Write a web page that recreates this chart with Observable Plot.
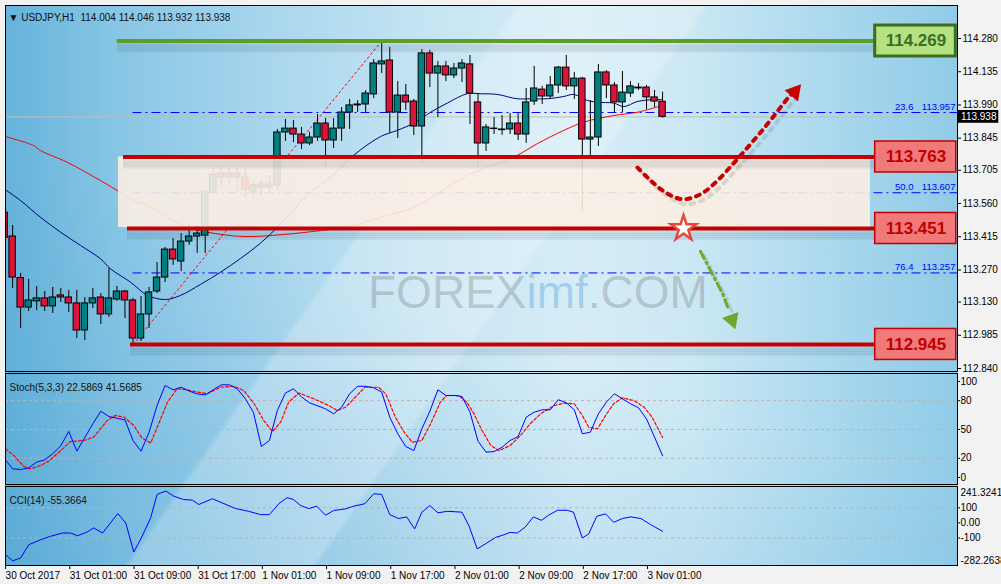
<!DOCTYPE html>
<html><head><meta charset="utf-8">
<script src="https://cdn.jsdelivr.net/npm/d3@7"></script>
<script src="https://cdn.jsdelivr.net/npm/@observablehq/plot@0.6"></script>
<style>
html,body{margin:0;padding:0;background:#f0f0f0;}
#wrap{position:relative;width:1001px;height:584px;overflow:hidden;background:#f2f2f2;font-family:'Liberation Sans',Arial,sans-serif;}
#bg{position:absolute;left:5px;top:5px;width:952px;height:560px;
 background:
  linear-gradient(125deg, rgba(255,255,255,0) 0%, rgba(255,255,255,0) 38%, rgba(255,255,255,0.22) 38.5%, rgba(255,255,255,0.22) 52%, rgba(255,255,255,0) 52.5%),
  linear-gradient(200deg, rgba(255,255,255,0) 55%, rgba(60,150,205,0.28) 100%),
  linear-gradient(90deg, #66b3da 0%, #88c6e5 12%, #a9d6ed 28%, #c6e5f3 45%, #d6edf7 60%, #cbe8f4 72%, #acd9ee 86%, #90cbe7 100%);}
#wm{position:absolute;left:368px;top:269px;font-size:46px;line-height:46px;white-space:nowrap;font-family:'Liberation Sans',Arial,sans-serif;}
</style></head>
<body>
<div id="wrap"><div id="bg"></div>
<div id="wm"><span style="color:rgba(105,105,105,0.30)">FOREX</span><span style="color:rgba(40,130,200,0.28)">imf</span><span style="color:rgba(105,105,105,0.30)">.COM</span></div>
</div>
<script>
// ---------- data ----------
const header = "\u25BC USDJPY,H1\u00a0 114.004 114.046 113.932 113.938";
const opens = [113.520,113.416,113.235,113.106,113.133,113.146,113.111,113.159,113.150,113.124,
113.006,113.124,113.150,113.076,113.141,113.176,113.137,112.971,113.076,113.176,
113.237,113.359,113.307,113.394,113.416,113.420,113.608,113.691,113.673,113.691,
113.673,113.613,113.643,113.630,113.639,113.870,113.887,113.861,113.822,113.848,
113.909,113.835,113.887,113.957,113.988,113.992,114.036,114.167,114.184,113.957,
114.031,114.005,113.896,114.215,114.127,114.158,114.119,114.149,114.167,114.001,
113.822,113.887,113.883,113.883,113.909,113.861,114.005,114.057,114.027,114.075,
114.153,114.071,114.105,113.839,113.848,114.132,114.075,114.001,114.040,114.066,
114.066,114.023,114.004];
const highs = [113.530,113.464,113.255,113.229,113.198,113.176,113.194,113.189,113.181,113.181,
113.150,113.189,113.167,113.277,113.198,113.181,113.146,113.154,113.194,113.303,
113.368,113.407,113.429,113.473,113.464,113.617,113.717,113.722,113.713,113.713,
113.709,113.660,113.660,113.682,113.883,113.927,113.922,113.892,113.870,113.948,
113.931,113.930,113.979,114.014,114.009,114.053,114.188,114.269,114.241,114.092,
114.079,114.014,114.232,114.228,114.180,114.180,114.171,114.188,114.206,114.040,
113.905,113.935,113.944,113.953,113.953,114.062,114.158,114.071,114.114,114.158,
114.206,114.132,114.110,114.009,114.167,114.140,114.088,114.136,114.092,114.084,
114.075,114.053,114.046];
const lows = [113.390,113.189,113.015,113.089,113.093,113.089,113.080,113.128,113.085,112.971,
112.962,113.102,113.032,113.063,113.133,113.058,112.945,112.958,113.015,113.167,
113.215,113.290,113.263,113.377,113.342,113.342,113.604,113.634,113.639,113.608,
113.586,113.595,113.595,113.608,113.617,113.831,113.826,113.796,113.813,113.831,
113.722,113.800,113.831,113.883,113.957,113.957,114.018,114.127,113.866,113.844,
113.966,113.857,113.735,114.066,113.935,114.092,114.105,114.088,113.905,113.717,
113.787,113.861,113.857,113.861,113.835,113.822,113.988,113.992,114.014,114.040,
114.053,114.014,113.521,113.770,113.809,114.018,113.957,113.957,114.023,114.053,
113.970,113.979,113.932];
const closes = [113.410,113.237,113.106,113.137,113.146,113.111,113.150,113.150,113.124,113.006,
113.124,113.146,113.076,113.146,113.176,113.137,112.971,113.076,113.172,113.237,
113.359,113.316,113.394,113.416,113.429,113.608,113.687,113.673,113.691,113.673,
113.621,113.639,113.630,113.643,113.870,113.887,113.861,113.822,113.848,113.909,
113.835,113.887,113.957,113.988,113.992,114.040,114.171,114.180,113.957,114.031,
114.001,113.896,114.215,114.127,114.158,114.119,114.149,114.171,114.040,113.822,
113.892,113.885,113.880,113.909,113.861,114.001,114.062,114.027,114.075,114.153,
114.071,114.105,113.839,113.848,114.132,114.075,114.001,114.044,114.071,114.062,
114.023,114.005,113.938];

const blueBars = [0.11,1.98,4.47,6.97,9.46,11.95,13.2,15.69,17.81,20.05,21.92,24.41,26.9,29.4,31.89,34.01,35.63,38.12,40.62,43.48,46.85,48.93,50.96,53.08,55.16,57.65,59.31,61.39,63.88,65.54,67.62,69.69,70.94,72.61,73.85,75.92,77.17,78.84,80.49,81.95];
const blueVals = [113.620,113.573,113.500,113.435,113.377,113.319,113.275,113.217,113.159,113.141,113.159,113.207,113.260,113.320,113.387,113.457,113.518,113.609,113.675,113.770,113.852,113.879,113.910,113.958,113.998,114.039,114.039,114.036,114.017,114.017,114.017,114.027,114.036,114.010,114.002,113.998,113.983,114.005,114.013,114.013];
const redBars = [0.11,3.6,4.47,7.8,11.95,14.03,16.1,18.18,20.68,22.76,25.25,29.81,34.8,39.37,42.7,46.85,51.0,55.16,58.06,61.39,63.88,66.38,69.69,72.18,75.92,78.84,81.95];
const redVals = [113.852,113.813,113.791,113.740,113.660,113.617,113.573,113.547,113.493,113.457,113.435,113.416,113.425,113.442,113.457,113.500,113.544,113.631,113.690,113.733,113.770,113.821,113.879,113.915,113.944,113.958,113.988];

const priceTicks = [114.280,114.135,113.990,113.845,113.705,113.560,113.415,113.270,113.130,112.985,112.840];
const lastPrice = 113.938;

const levelPrices = [114.269, 113.763, 113.451, 112.945];
const levelStarts = [14.03, 14.82, 15.32, 15.69];
const boxBar = 108.5;

const zoneBars = [14.2, 107.9];
const zonePrices = [113.455, 113.763];

const fibPcts = ["23.6", "50.0", "76.4"];
const fibPrices = [113.957, 113.607, 113.257];
const fibStartBar = 16;
const trendBars = [16, 47];
const trendPrices = [112.945, 114.269];

const upArrowBars = [78.88,80.25,81.99,83.61,84.61,85.73,87.10,88.85,90.84,92.58,94.21,95.83,97.57,98.19];
const upArrowPrices = [113.717,113.669,113.617,113.586,113.578,113.586,113.608,113.660,113.735,113.804,113.870,113.940,114.018,114.040];
const downArrowBars = [86.73, 89.47, 90.28];
const downArrowPrices = [113.351, 113.167, 113.093];
const burst = {b: 84.61, p: 113.451};

const stochLabel = "Stoch(5,3,3) 22.5869 41.5685";
const kBars = [0,1,2,3,4,5,6,7,8,9,11,12,13,15,16,17,18,19,20,21,22,23,24,25,26,27,28,29,30,31,32,33,34,35,36,37,38,40,41,42,43,44,45,46,47,48,49,50,51,52,53,54,55,56,57,58,59,60,61,62,63,64,65,66,67,68,69,70,71,72,73,74,75,76,77,78,79,80,81,82];
const kVals = [19.5,9,8.3,10,16,18.4,24.7,33,48,27.4,56,69,63.5,60,38.5,27.4,47,75,95.8,91.3,94,90,87,86,91.3,96.5,96.5,92.4,82,68,32.3,38.5,70,88,92.4,84,77.8,71.5,66.3,73.2,87.2,95,95,93.4,88.9,62.8,45.5,32.3,28,50.7,69,91.3,85.4,85.4,84.4,68,37.8,26.4,27,31.6,38.5,42.7,62.8,68,70.5,70.5,81,77.8,70.5,45.5,47.2,66.3,78.5,87.2,82,76.8,72.6,61,42,22.5869];
const dBars = [0.1,1.15,2.4,3.2,4.5,5.5,7,8.2,9.9,11.1,12.8,13.8,14.9,16.1,17.1,18.2,19.2,20.3,21.5,22.8,24,25.3,26.9,28.6,29.8,31.1,32.3,33.4,34.4,35.4,36.7,38.5,40.2,41.5,42.5,43.7,44.9,46.6,47.5,48.7,49.8,50.8,52,53.1,54.3,55.1,56.6,57.6,58.5,59.5,60.6,61.6,63,64.3,65.5,66.8,68.5,69.7,71,72,72.8,73.9,74.9,75.9,77,78.4,79.7,80.7,82];
const dVals = [29.9,23,11.5,9,12.5,17,28,37.5,38.5,42,59.4,64.6,62.8,54.2,41.3,35.8,56,78.5,92.4,91.3,88.9,87.2,94,95,90.6,76.8,59.4,47.9,57.6,78.5,88,82,75.7,69.8,73.2,83.6,94,94,87.2,62.8,47.2,36.8,38.5,56,78.5,85.4,85.4,78.5,66.3,49,33.3,28,33.3,43.8,56,66.3,75,77.4,76.8,64.6,52.4,50.7,64.6,76.8,83,80.2,73.2,62.8,41.5685];
const stochTicks = [100, 80, 50, 20, 0];
const stochLevels = [80, 50, 20];

const cciLabel = "CCI(14) -55.3664";
const cBars = [0,1,2,3,4.5,5.7,7.2,8.2,9.1,10.3,11.1,12.2,13.2,14.1,15.1,16.1,17.1,18.2,19,20.1,21.1,22.3,23.4,24.2,25.9,27.1,28.8,30.4,31.9,33,34.2,35.2,36,36.9,37.9,38.9,40,41,42.5,43.5,44.9,46,47,48,49.1,50.1,51.1,52,53,54,55.2,57,57.9,58.9,60.1,61.2,62,63,63.9,64.9,65.9,66.9,67.8,68.9,70.1,70.9,72,72.8,73.8,74.9,75.9,77,78,79.3,80.5,82];
const cVals = [-205,-251,-233,-145,-111,-89,-67,-67,-85,-60,-33,-67,0,62,0,-193,-93,33,189,211,177,155,151,122,160,133,95,77,55,55,129,167,155,115,95,111,51,82,93,111,127,193,189,55,29,40,-40,71,115,67,77,71,-23,-173,-133,-96,-83,-63,-67,-27,40,17,51,84,84,71,-100,-73,44,60,4,29,40,29,-11,-55.3664];
const cciMax = 241.3241, cciMin = -282.2638;
const cciTicks = [100, 0, -100];
const cciLevels = [100, -100];

const timeBars = [0,8,16,24,32,40,48,56,64,72,80];
const timeLabels = ["30 Oct 2017","31 Oct 01:00","31 Oct 09:00","31 Oct 17:00","1 Nov 01:00","1 Nov 09:00","1 Nov 17:00","2 Nov 01:00","2 Nov 09:00","2 Nov 17:00","3 Nov 01:00"];

// ---------- build ----------
const FONT = "'Liberation Sans', Arial, sans-serif";
const xDom = [0.112, 118.756];
const TEAL = "#008080", CRIMSON = "#dc143c";
const candles = opens.map((o, i) => ({i, open: o, high: highs[i], low: lows[i], close: closes[i]}));
const pts = (bs, vs) => bs.map((b, k) => ({b, v: vs[k]}));
const blueMA = pts(blueBars, blueVals), redMA = pts(redBars, redVals);
const levels = levelPrices.map((p, k) => ({p, start: levelStarts[k]}));
const greenLv = levels.slice(0, 1), redLv = levels.slice(1);
const fib = fibPrices.map((p, k) => ({p, pct: fibPcts[k]}));
const upArrow = pts(upArrowBars, upArrowPrices), downArrow = pts(downArrowBars, downArrowPrices);
const styleBase = {background: "transparent", fontFamily: FONT, fontSize: "10px", color: "#000", overflow: "visible"};
const shadowMarks = (data, opts) => [4, 6, 8, 10].map(dy =>
  Plot.ruleY(data, {...opts, stroke: "#203040", strokeOpacity: 0.07, strokeWidth: 3, dy}));

const main = Plot.plot({
  width: 1001, height: 372, marginLeft: 5, marginRight: 44, marginTop: 5, marginBottom: 1,
  x: {domain: xDom, axis: null},
  y: {domain: [112.827, 114.424], axis: null},
  style: styleBase,
  marks: [
    Plot.ruleY(fib, {y: "p", x1: fibStartBar, x2: xDom[1], stroke: "#0000ff", strokeWidth: 1, strokeDasharray: "9,4,2,4"}),
    Plot.line(pts(trendBars, trendPrices), {x: "b", y: "v", stroke: "#ff0000", strokeWidth: 1, strokeDasharray: "2,3"}),
    Plot.ruleY([lastPrice], {stroke: "#bdbdbd", strokeWidth: 1}),
    Plot.line(redMA, {x: "b", y: "v", stroke: "#ff0000", strokeWidth: 1, curve: "catmull-rom", clip: true}),
    Plot.line(blueMA, {x: "b", y: "v", stroke: "#000080", strokeWidth: 1, curve: "catmull-rom", clip: true}),
    Plot.ruleX(candles, {x: "i", y1: "low", y2: "high", stroke: "#000", strokeWidth: 1, clip: true}),
    Plot.rect(candles, {x1: d => d.i - 0.4, x2: d => d.i + 0.4, y1: "open", y2: "close",
      fill: d => d.close >= d.open ? TEAL : CRIMSON, stroke: "#000", strokeWidth: 1, clip: true}),
    // zone
    Plot.rect([0], {x1: zoneBars[0], x2: zoneBars[1], y1: zonePrices[0], y2: zonePrices[1], fill: "#fbeee3", fillOpacity: 0.9}),
    // fib labels
    Plot.text(fib, {x: 113.27, y: "p", text: "pct", textAnchor: "end", dy: -6, fill: "#0000ff", fontSize: 9.5}),
    Plot.text(fib, {x: 118.5, y: "p", text: d => d.p.toFixed(3), textAnchor: "end", dy: -6, fill: "#0000ff", fontSize: 9.5}),
    // level lines with soft shadow
    ...shadowMarks(levels, {y: "p", x1: "start", x2: boxBar}),
    Plot.ruleY(greenLv, {y: "p", x1: "start", x2: boxBar, stroke: "#5c9e28", strokeWidth: 4}),
    Plot.ruleY(redLv, {y: "p", x1: "start", x2: boxBar, stroke: "#c40000", strokeWidth: 4}),
    // level boxes
    Plot.rect(greenLv, {x1: boxBar, x2: 118.55, y1: d => d.p - 0.0676, y2: d => d.p + 0.0676, fill: "#b4e182", stroke: "#3c6e1e", strokeWidth: 3}),
    Plot.rect(redLv, {x1: boxBar, x2: 118.6, y1: d => d.p - 0.0676, y2: d => d.p + 0.0676, fill: "#f07a7a", stroke: "#c00000", strokeWidth: 1.5}),
    Plot.text(greenLv, {x: 113.58, y: "p", text: d => d.p.toFixed(3), fill: "#3c6e1e", fontSize: 17, fontWeight: "bold"}),
    Plot.text(redLv, {x: 113.58, y: "p", text: d => d.p.toFixed(3), fill: "#c00000", fontSize: 17, fontWeight: "bold"}),
    // arrows
    Plot.line(upArrow, {x: "b", y: "v", stroke: "#333", strokeOpacity: 0.14, strokeWidth: 4, strokeDasharray: "4,6", curve: "catmull-rom", dx: 4, dy: 5}),
    Plot.line(upArrow, {x: "b", y: "v", stroke: "#c80000", strokeWidth: 4, strokeDasharray: "4,6", curve: "catmull-rom"}),
    Plot.dot([{b: 98.45, v: 114.047}], {x: "b", y: "v", symbol: "triangle", r: 6.5, fill: "#c80000", rotate: 40}),
    Plot.line(downArrow, {x: "b", y: "v", stroke: "#333", strokeOpacity: 0.14, strokeWidth: 3, strokeDasharray: "8,4,2,4", dx: 4, dy: 4}),
    Plot.line(downArrow, {x: "b", y: "v", stroke: "#6aab2e", strokeWidth: 3, strokeDasharray: "8,4,2,4"}),
    Plot.dot([{b: 90.65, v: 113.053}], {x: "b", y: "v", symbol: "triangle", r: 6.5, fill: "#6aab2e", rotate: 160}),
    Plot.dot([burst], {x: "b", y: "p", symbol: "star", r: 8, fill: "#ffffff", stroke: "#e8473c", strokeWidth: 2.5}),
    // current price tag
    Plot.rect([lastPrice], {x1: 118.8, x2: 123.9, y1: d => d - 0.028, y2: d => d + 0.028, fill: "#000"}),
    Plot.text([lastPrice], {x: 119.2, y: d => d, text: d => d.toFixed(3), fill: "#fff", textAnchor: "start"}),
    Plot.axisY({ticks: priceTicks, anchor: "right", label: null, tickFormat: d => d.toFixed(3), tickSize: 3, tickPadding: 2}),
    Plot.text([header], {frameAnchor: "top-left", dx: 3, dy: 8, textAnchor: "start", text: d => d, fill: "#111"}),
    Plot.frame({stroke: "#000"})
  ]
});

const stoch = Plot.plot({
  width: 1001, height: 113, marginLeft: 5, marginRight: 44, marginTop: 1, marginBottom: 1,
  x: {domain: xDom, axis: null},
  y: {domain: [-7.3, 108.3], axis: null},
  style: styleBase,
  marks: [
    Plot.ruleY(stochLevels, {stroke: "#c9aea4", strokeDasharray: "3,3"}),
    Plot.line(pts(dBars, dVals), {x: "b", y: "v", stroke: "#ff0000", strokeWidth: 1.2, strokeDasharray: "3,2", clip: true}),
    Plot.line(pts(kBars, kVals), {x: "b", y: "v", stroke: "#0000ff", strokeWidth: 1, clip: true}),
    Plot.axisY({ticks: stochTicks, anchor: "right", label: null, tickFormat: d => String(d), tickSize: 2, tickPadding: 1}),
    Plot.text([stochLabel], {frameAnchor: "top-left", dx: 4, dy: 10, textAnchor: "start", text: d => d, fill: "#111"}),
    Plot.frame({stroke: "#000"})
  ]
});

const cci = Plot.plot({
  width: 1001, height: 99, marginLeft: 5, marginRight: 44, marginTop: 1, marginBottom: 19,
  x: {domain: xDom, axis: null},
  y: {domain: [cciMin, cciMax], axis: null},
  style: styleBase,
  marks: [
    Plot.ruleY(cciLevels, {stroke: "#c9aea4", strokeDasharray: "3,3"}),
    Plot.line(pts(cBars, cVals), {x: "b", y: "v", stroke: "#0000ff", strokeWidth: 1, clip: true}),
    Plot.axisY({ticks: cciTicks, anchor: "right", label: null, tickFormat: d => d === 0 ? "0.00" : String(d), tickSize: 2, tickPadding: 1}),
    Plot.axisY({ticks: [cciMax], anchor: "right", label: null, tickFormat: d => d.toFixed(4), tickSize: 0, tickPadding: 3, dy: 6}),
    Plot.axisY({ticks: [cciMin], anchor: "right", label: null, tickFormat: d => d.toFixed(4), tickSize: 0, tickPadding: 3, dy: -5}),
    Plot.axisX({ticks: timeBars, anchor: "bottom", label: null, tickFormat: d => timeLabels[timeBars.indexOf(d)], tickSize: 4, tickPadding: 2, textAnchor: "start", dx: 1}),
    Plot.text([cciLabel], {frameAnchor: "top-left", dx: 4, dy: 10, textAnchor: "start", text: d => d, fill: "#111"}),
    Plot.frame({stroke: "#000"})
  ]
});

const wrap = document.getElementById("wrap");
[[main, 0], [stoch, 372], [cci, 485]].forEach(([svg, top]) => {
  svg.style.position = "absolute";
  svg.style.left = "0px";
  svg.style.top = top + "px";
  wrap.appendChild(svg);
});
</script>
</body></html>
